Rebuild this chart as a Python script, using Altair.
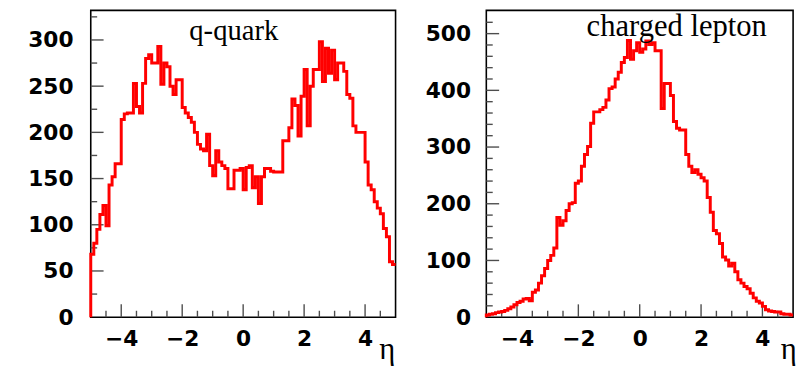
import altair as alt
import pandas as pd

# ---- data (bin contents, 100 bins of width 0.1 from eta=-5 to 5) ----
eta_min = -5.0
eta_max = 5.0
bin_width = 0.1

quark_counts = [
    68, 80, 95, 111, 121, 99, 143, 152, 166, 166,
    214, 220, 221, 221, 253, 228, 221, 253, 280, 284,
    275, 275, 293, 252, 275, 271, 250, 241, 257, 257,
    227, 221, 216, 211, 200, 187, 182, 180, 198, 164,
    153, 180, 168, 164, 161, 139, 139, 159, 159, 161,
    138, 162, 164, 140, 152, 123, 152, 161, 161, 158,
    157, 157, 157, 191, 191, 205, 236, 229, 196, 239,
    268, 207, 250, 268, 268, 298, 255, 291, 264, 289,
    257, 275, 275, 266, 241, 237, 207, 200, 200, 200,
    168, 143, 138, 125, 118, 112, 96, 87, 60, 57,
]

lepton_counts = [
    4, 5, 6, 8, 9, 10, 12, 15, 18, 22,
    26, 28, 32, 33, 29, 44, 48, 60, 73, 86,
    100, 109, 122, 176, 162, 170, 188, 200, 202, 236,
    240, 266, 287, 301, 342, 362, 362, 366, 370, 383,
    403, 406, 420, 432, 449, 458, 488, 455, 470, 484,
    467, 473, 487, 481, 484, 470, 470, 368, 412, 412,
    391, 345, 333, 330, 330, 287, 266, 255, 260, 252,
    246, 240, 211, 185, 153, 147, 130, 106, 101, 90,
    95, 80, 66, 60, 54, 50, 42, 34, 28, 25,
    19, 13, 11, 10, 9, 9, 6, 5, 5, 4,
]

panel_titles = ["q-quark", "charged lepton"]
x_axis_title = "η"

x_major = [-4, -2, 0, 2, 4]
x_minor = [-4.5, -3.5, -3, -2.5, -1.5, -1, -0.5, 0.5, 1, 1.5, 2.5, 3, 3.5, 4.5]

quark_y_labels = [0, 50, 100, 150, 200, 250, 300]
quark_y_minor = [25, 75, 125, 175, 225, 275, 325]
quark_y_max = 332

lepton_y_labels = [0, 100, 200, 300, 400, 500]
lepton_y_minor = [20, 40, 60, 80, 120, 140, 160, 180, 220, 240, 260, 280,
                  320, 340, 360, 380, 420, 440, 460, 480, 520]
lepton_y_max = 541

# ---- helpers ----
W_LEFT, W_RIGHT, H = 309, 311, 311
MAJOR_LEN, MINOR_LEN = 13, 6.5   # tick lengths in pixels
LABEL_FONT = "DejaVu Sans"
TITLE_FONT = "Liberation Serif"
TICK_COLOR = "#4d4d4d"


def step_frame(counts):
    rows = [{"eta": eta_min, "n": 0, "o": 0}]
    for i, c in enumerate(counts):
        rows.append({"eta": eta_min + bin_width * i, "n": c, "o": i + 1})
    rows.append({"eta": eta_max, "n": counts[-1], "o": len(counts) + 1})
    return pd.DataFrame(rows)


def tick_frame(y_labels, y_minor, y_max, width):
    """Inward ROOT-style ticks as two-point segments in data units."""
    y_per_px = y_max / H
    x_per_px = (eta_max - eta_min) / width
    rows = []
    g = 0
    for vals, ln in ((x_major, MAJOR_LEN), (x_minor, MINOR_LEN)):
        for v in vals:
            rows.append({"px": v, "py": 0.0, "g": g})
            rows.append({"px": v, "py": ln * y_per_px, "g": g})
            g += 1
    y_major = [v for v in y_labels if v > 0]
    for vals, ln in ((y_major, MAJOR_LEN), (y_minor, MINOR_LEN)):
        for v in vals:
            rows.append({"px": eta_min, "py": v, "g": g})
            rows.append({"px": eta_min + ln * x_per_px, "py": v, "g": g})
            g += 1
    return pd.DataFrame(rows)


def panel(counts, y_labels, y_minor, y_max, width, title, title_x, title_y,
          title_size, ylab_pad, eta_title_x):
    xs = alt.Scale(domain=[eta_min, eta_max], nice=False, zero=False)
    ys = alt.Scale(domain=[0, y_max], nice=False)
    x_axis = alt.Axis(values=x_major, domain=False, ticks=False,
                      grid=False, labelFont=LABEL_FONT, labelFontWeight="bold",
                      labelFontSize=22, labelColor="black", labelPadding=12,
                      labelFlush=False,
                      title=x_axis_title, titleFont=TITLE_FONT, titleFontSize=31,
                      titleFontWeight="normal", titleColor="black",
                      titleX=eta_title_x, titleY=42, titleAlign="center",
                      titleBaseline="alphabetic")
    y_axis = alt.Axis(values=y_labels, domain=False, ticks=False,
                      grid=False, labelFont=LABEL_FONT, labelFontWeight="bold",
                      labelFontSize=22, labelColor="black", labelPadding=ylab_pad,
                      labelFlush=False, title=None)

    hist = alt.Chart(step_frame(counts)).mark_line(
        interpolate="step-after", color="#ff0000", strokeWidth=3
    ).encode(
        x=alt.X("eta:Q", scale=xs, axis=x_axis),
        y=alt.Y("n:Q", scale=ys, axis=y_axis),
        order="o:Q",
    )

    ticks = alt.Chart(tick_frame(y_labels, y_minor, y_max, width)).mark_line(
        color=TICK_COLOR, strokeWidth=1.4
    ).encode(
        x=alt.X("px:Q", scale=xs, axis=x_axis),
        y=alt.Y("py:Q", scale=ys, axis=y_axis),
        detail="g:N",
    )

    label = alt.Chart(pd.DataFrame({"s": [title]})).mark_text(
        font=TITLE_FONT, fontSize=title_size, color="black",
        align="center", baseline="alphabetic"
    ).encode(x=alt.value(title_x), y=alt.value(title_y), text="s:N")

    return alt.layer(ticks, hist, label).properties(width=width, height=H)


left = panel(quark_counts, quark_y_labels, quark_y_minor, quark_y_max, W_LEFT,
             panel_titles[0], 145, 30, 29, 18, 300)
right = panel(lepton_counts, lepton_y_labels, lepton_y_minor, lepton_y_max, W_RIGHT,
              panel_titles[1], 193, 26, 31, 16, 306)

chart = alt.hconcat(left, right, spacing=92, bounds="flush").properties(
    padding={"left": 27, "top": 7, "right": 0, "bottom": 0},
    background="white",
).configure_view(stroke="black", strokeWidth=1.6)

chart.save("out.html", embed_options={"renderer": "svg", "actions": False})
